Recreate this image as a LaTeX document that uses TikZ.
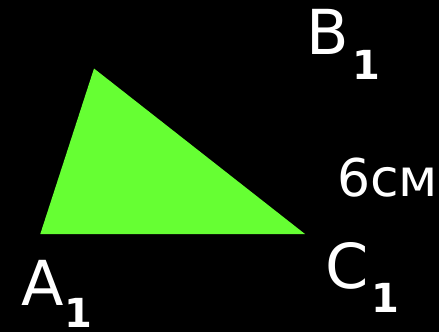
\documentclass[tikz,border=0pt]{standalone}
\usepackage{fontspec}
\setmainfont{DejaVu Sans}
\definecolor{trigreen}{HTML}{66FF33}
\tikzset{
  lbl/.style={text=white, inner sep=0pt, outer sep=0pt, anchor=base west, font=\fontsize{62}{72}\selectfont},
  sublbl/.style={text=white, inner sep=0pt, outer sep=0pt, anchor=base west, font=\fontsize{40}{46}\selectfont\bfseries},
  measlbl/.style={text=white, inner sep=0pt, outer sep=0pt, anchor=base west, font=\fontsize{52}{62}\selectfont}
}
\begin{document}
\begin{tikzpicture}[x=1pt,y=-1pt]
\fill[black] (0,0) rectangle (439,332);
\useasboundingbox (0,0) rectangle (439,332);
\coordinate (tA) at (40.3,234);
\coordinate (tB) at (94,68.5);
\coordinate (tC) at (305,234);
\fill[trigreen] (tA) -- (tB) -- (tC) -- cycle;
\node[lbl] (labB) at (306,54) {B};
\node[sublbl] (subB) at (352,79) {1};
\node[lbl] (labA) at (21,305) {A};
\node[sublbl] (subA) at (64.5,327) {1};
\node[lbl] (labC) at (325,288) {C};
\node[sublbl] (subC) at (371.5,312) {1};
\node[measlbl] (meas) at (337,196) {6см};
\end{tikzpicture}
\end{document}
